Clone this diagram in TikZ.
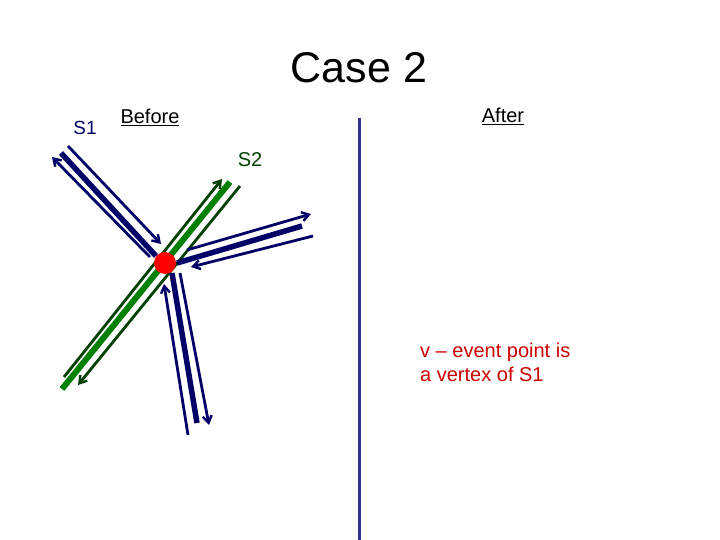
\documentclass[tikz,border=0pt]{standalone}
\usepackage{fontspec}
\setmainfont{Liberation Sans}
\usetikzlibrary{arrows.meta}
\definecolor{navy}{RGB}{0,0,102}
\definecolor{sgreen}{RGB}{0,128,0}
\definecolor{dgreen}{RGB}{0,64,0}
\definecolor{slate}{RGB}{51,51,140}
\definecolor{tred}{RGB}{204,0,0}
\tikzset{
  thickseg/.style={line width=5.5pt},
  thinseg/.style={line width=2.8pt},
  arr/.style={-{Straight Barb[length=7pt,width=9pt,line width=2.4pt]}},
  lbl/.style={inner sep=0pt, font=\fontsize{20}{24}\selectfont},
}
\begin{document}
\begin{tikzpicture}[x=1pt,y=-1pt]
\useasboundingbox (0,0) rectangle (720,540);
% titles
\node[inner sep=0pt, font=\fontsize{43}{50}\selectfont] (title) at (359,68) {Case 2};
\node[lbl, font=\fontsize{19}{22}\selectfont, text=navy] (s1) at (85,128) {S1};
\node[lbl] (before) at (150,117) {\underline{Before}};
\node[lbl] (after) at (503,116) {\underline{After}};
\node[lbl, text=dgreen] (s2) at (250,160) {S2};
\node[lbl, align=left, anchor=north west, text=tred] (note) at (420,343) {v -- event point is\\a vertex of S1};
% separator
\coordinate (sepT) at (359,118);
\coordinate (sepB) at (359,540);
\draw[slate, line width=3pt] (sepT) -- (sepB);
% S2 green
\coordinate (g1) at (62,389); \coordinate (g2) at (230,182);
\draw[sgreen, line width=6pt] (g1) -- (g2);
\coordinate (ga1) at (64,377); \coordinate (ga2) at (222,179);
\draw[dgreen, thinseg, arr] (ga1) -- (ga2);
\coordinate (gb1) at (240,186); \coordinate (gb2) at (78,385);
\draw[dgreen, thinseg, arr] (gb1) -- (gb2);
% S1 upper-left
\coordinate (u1) at (61,153); \coordinate (u2) at (156,256);
\draw[navy, thickseg] (u1) -- (u2);
\coordinate (ua1) at (68,146); \coordinate (ua2) at (161,244);
\draw[navy, thinseg, arr] (ua1) -- (ua2);
\coordinate (ub1) at (150,257); \coordinate (ub2) at (52,157);
\draw[navy, thinseg, arr] (ub1) -- (ub2);
% S1 right
\coordinate (r1) at (177,263); \coordinate (r2) at (302,226);
\draw[navy, thickseg] (r1) -- (r2);
\coordinate (ra1) at (187,250); \coordinate (ra2) at (311,214);
\draw[navy, thinseg, arr] (ra1) -- (ra2);
\coordinate (rb1) at (313,236); \coordinate (rb2) at (191,267);
\draw[navy, thinseg, arr] (rb1) -- (rb2);
% S1 bottom
\coordinate (b1) at (172,273); \coordinate (b2) at (197,423);
\draw[navy, thickseg] (b1) -- (b2);
\coordinate (ba1) at (188,435); \coordinate (ba2) at (164,284);
\draw[navy, thinseg, arr] (ba1) -- (ba2);
\coordinate (bb1) at (180,273); \coordinate (bb2) at (209,425);
\draw[navy, thinseg, arr] (bb1) -- (bb2);
% event point
\node[circle, fill=red, minimum size=22pt, inner sep=0pt] (v) at (165,263) {};
\end{tikzpicture}
\end{document}
